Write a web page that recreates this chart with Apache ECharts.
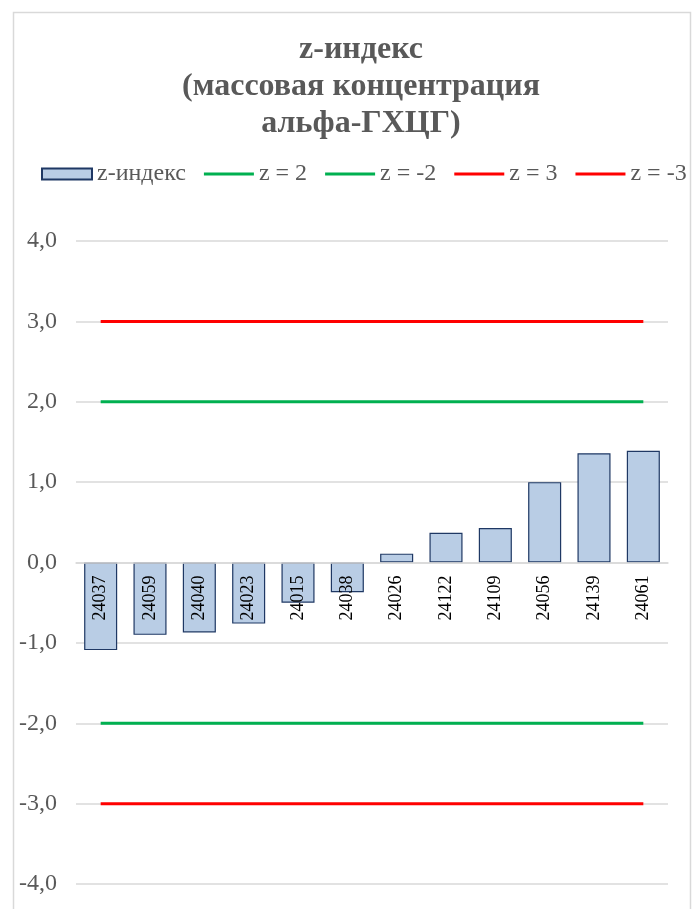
<!DOCTYPE html>
<html>
<head>
<meta charset="utf-8">
<script src="https://cdn.jsdelivr.net/npm/echarts@6/dist/echarts.min.js"></script>
<style>
  html, body { margin: 0; padding: 0; background: #fff; }
  #chart { width: 700px; height: 909px; }
</style>
</head>
<body>
<div id="chart"></div>
<script>
const categories = ['24037', '24059', '24040', '24023', '24015', '24038', '24026', '24122', '24109', '24056', '24139', '24061'];
const zValues = [-1.09, -0.90, -0.87, -0.76, -0.50, -0.37, 0.11, 0.37, 0.43, 1.00, 1.36, 1.39];
const zPlus2 = [2, 2, 2, 2, 2, 2, 2, 2, 2, 2, 2, 2];
const zMinus2 = [-2, -2, -2, -2, -2, -2, -2, -2, -2, -2, -2, -2];
const zPlus3 = [3, 3, 3, 3, 3, 3, 3, 3, 3, 3, 3, 3];
const zMinus3 = [-3, -3, -3, -3, -3, -3, -3, -3, -3, -3, -3, -3];
const seriesNames = ['z-индекс', 'z = 2', 'z = -2', 'z = 3', 'z = -3'];

const serif = '"Liberation Serif", "DejaVu Serif", serif';
const textGray = '#595959';
const lineIcon = 'path://M0,0H50V3H0Z';

// plot box: y from -4 to 4, so the zero line sits halfway up
const gridTop = 241;
const gridBottom = 25;
const plotHeight = 909 - gridTop - gridBottom;

const chart = echarts.init(document.getElementById('chart'));

function thresholdLine(name, data, color) {
  return {
    name: name,
    type: 'line',
    data: data,
    symbol: 'none',
    lineStyle: { color: color, width: 3 },
    itemStyle: { color: color },
    z: 3,
  };
}

const option = {
  backgroundColor: '#fff',
  animation: false,
  title: {
    text: 'z-индекс\n(массовая концентрация\nальфа-ГХЦГ)',
    left: 356,
    top: 26,
    textAlign: 'center',
    textStyle: {
      fontFamily: serif,
      fontSize: 32,
      fontWeight: 'bold',
      color: textGray,
      lineHeight: 37,
    },
  },
  legend: {
    data: [
      { name: seriesNames[0], icon: 'rect' },
      { name: seriesNames[1], icon: lineIcon },
      { name: seriesNames[2], icon: lineIcon },
      { name: seriesNames[3], icon: lineIcon },
      { name: seriesNames[4], icon: lineIcon },
    ],
    left: 36,
    top: 157,
    itemWidth: 50,
    itemHeight: 11,
    itemGap: 18,
    textStyle: { fontFamily: serif, fontSize: 24, color: textGray },
  },
  grid: { left: 76, right: 32, top: gridTop, bottom: gridBottom, outerBoundsMode: 'none' },
  graphic: [{
    type: 'rect',
    shape: { x: 13.5, y: 12.5, width: 677, height: 920 },
    style: { fill: 'none', stroke: '#D9D9D9', lineWidth: 1.5 },
    silent: true,
  }],
  xAxis: {
    type: 'category',
    data: categories,
    z: 10,
    offset: -plotHeight / 2,
    axisLine: { onZero: false, lineStyle: { color: '#D9D9D9', width: 1.5 } },
    axisTick: { show: false },
    axisLabel: {
      rotate: 90,
      margin: 13,
      fontFamily: serif,
      fontSize: 18,
      color: '#000',
    },
  },
  yAxis: {
    type: 'value',
    min: -4,
    max: 4,
    interval: 1,
    axisLine: { show: false },
    axisTick: { show: false },
    splitLine: { lineStyle: { color: '#D9D9D9', width: 1.5 } },
    axisLabel: {
      margin: 19,
      fontFamily: serif,
      fontSize: 24,
      color: textGray,
      formatter: (v) => v.toFixed(1).replace('.', ','),
    },
  },
  series: [
    {
      name: seriesNames[0],
      type: 'bar',
      data: zValues,
      barWidth: '67%',
      itemStyle: { color: '#B9CDE5', borderColor: '#1F3864', borderWidth: 1.2 },
      z: 2,
    },
    thresholdLine(seriesNames[1], zPlus2, '#00B050'),
    thresholdLine(seriesNames[2], zMinus2, '#00B050'),
    thresholdLine(seriesNames[3], zPlus3, '#FF0000'),
    thresholdLine(seriesNames[4], zMinus3, '#FF0000'),
  ],
};

chart.setOption(option);
</script>
</body>
</html>
